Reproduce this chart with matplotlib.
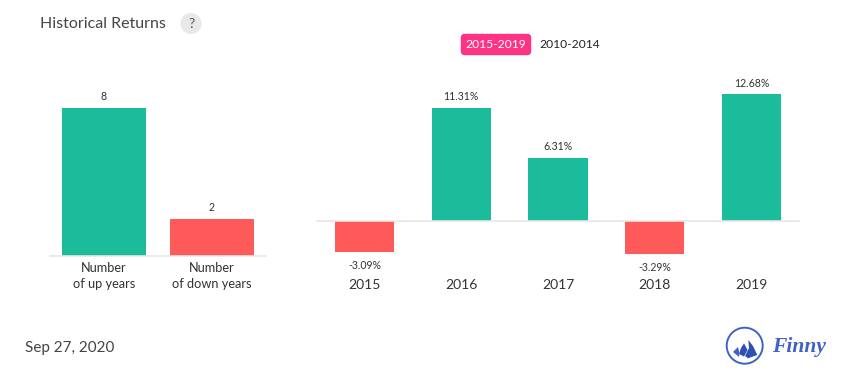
import matplotlib
matplotlib.use('Agg')
import matplotlib.pyplot as plt
from matplotlib.patches import Circle, FancyBboxPatch, Polygon

plt.rcParams['font.family'] = ['Lato', 'DejaVu Sans']

W, H = 855, 382
GREEN = '#1abc9c'
RED = '#ff5a5a'
AXIS = '#e6e6e6'
TEXT = '#333333'
BLUE = '#3f62c6'

count_labels = ['Number\nof up years', 'Number\nof down years']
count_values = [8, 2]

years = ['2015', '2016', '2017', '2018', '2019']
returns = [-3.09, 11.31, 6.31, -3.29, 12.68]


def px_axes(fig, left, top, right, bottom):
    # axes placed by reference pixels, y measured from the top
    ax = fig.add_axes([left / W, 1 - bottom / H, (right - left) / W, (bottom - top) / H])
    ax.patch.set_alpha(0)
    for s in ax.spines.values():
        s.set_visible(False)
    return ax


fig = plt.figure(figsize=(W / 100, H / 100), dpi=100)

# Left chart - up and down year counts
ax1 = px_axes(fig, 50, 88.5, 266, 255.5)
ax1.bar(range(2), count_values, width=0.778, color=[GREEN, RED])
ax1.set_xlim(-0.5, 1.5)
ax1.set_ylim(0, 167 / 147.5 * 8)
ax1.axhline(0, color=AXIS, lw=1.2, clip_on=False)
ax1.set_yticks([])
ax1.set_xticks(range(2))
ax1.set_xticklabels(count_labels, fontsize=9.15, color=TEXT, linespacing=1.34)
ax1.tick_params(axis='x', length=0, pad=5)
for i, v in enumerate(count_values):
    ax1.annotate(str(v), (i, v), xytext=(0, 4), textcoords='offset points',
                 ha='center', va='bottom', fontsize=7.6, color=TEXT)

# Right chart - yearly returns
ax2 = px_axes(fig, 316, 74, 800, 292)
ax2.bar(range(5), returns, width=0.61, color=[GREEN if v > 0 else RED for v in returns])
ax2.set_xlim(-0.5, 4.5)
ax2.set_ylim(-7.1, 14.7)
ax2.axhline(0, color=AXIS, lw=1.2)
ax2.set_yticks([])
ax2.set_xticks([])
for i, v in enumerate(returns):
    offset = 4 if v > 0 else -6
    ax2.annotate(f'{v:.2f}%', (i, v), xytext=(0, offset), textcoords='offset points',
                 ha='center', va='bottom' if v > 0 else 'top', fontsize=7.6, color=TEXT)
    ax2.annotate(years[i], (i, 0), xycoords=('data', 'axes fraction'),
                 xytext=(0, 1), textcoords='offset points',
                 ha='center', va='bottom', fontsize=10, color=TEXT)

# Overlay in pixel coordinates for header, footer and logo
ov = fig.add_axes([0, 0, 1, 1], zorder=5)
ov.set_xlim(0, W)
ov.set_ylim(H, 0)
ov.axis('off')

ov.text(40, 23.5, 'Historical Returns', fontsize=11.5, color='#444444', va='center')
ov.add_patch(Circle((191, 23.5), 10.5, color='#e8e8e8', lw=0))
ov.text(191, 23.5, '?', fontsize=10, color='#555555', ha='center', va='center')

ov.add_patch(FancyBboxPatch((461.5, 34.5), 69, 20, boxstyle='round,pad=0,rounding_size=3',
                            fc='#ff3385', ec='#ff3385', lw=1))
ov.text(496, 44.5, '2015-2019', fontsize=8.7, color='white', ha='center', va='center')
ov.text(570, 44.5, '2010-2014', fontsize=8.7, color='#222222', ha='center', va='center')

ov.text(25, 348, 'Sep 27, 2020', fontsize=11, color='#444444', va='center')

# Logo
ov.add_patch(Circle((744.7, 345.7), 18, fc='none', ec=BLUE, lw=1.4))
ov.add_patch(Polygon([(748.3, 340), (753, 346), (757.3, 355), (748, 358.3), (745, 356), (749, 348)],
                     fc='#2f4fb5', lw=0))
ov.add_patch(Polygon([(744, 343.3), (747.5, 350), (744, 356.5), (739, 354), (741, 348)],
                     fc='#2f4fb5', lw=0))
ov.add_patch(Polygon([(738, 347), (739.5, 353), (739, 357), (733, 352)], fc=BLUE, lw=0))
ov.text(772, 347, 'Finny', fontsize=15.5, family=['Liberation Serif'], style='italic', weight='bold',
        color=BLUE, va='center')

fig.savefig('out.png', dpi=100)
